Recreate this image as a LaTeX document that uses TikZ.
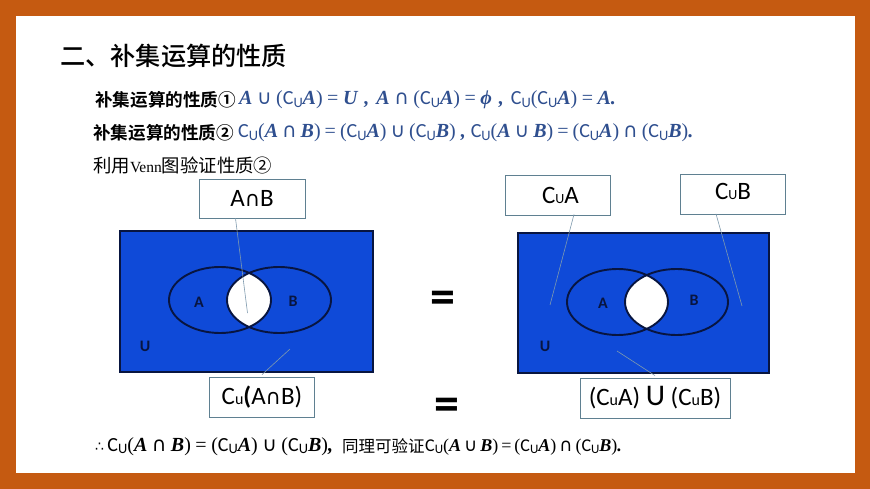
\documentclass[tikz,border=0pt]{standalone}
\usepackage{fontspec}
\setmainfont{Carlito}
\newfontfamily\cjk{Noto Sans CJK SC}
\newfontfamily\cjkm{Noto Sans CJK SC Medium}
\newfontfamily\cjkb{Noto Sans CJK SC Bold}
\newfontfamily\symf{DejaVu Sans}
\newfontfamily\mi{Liberation Serif}
\newfontfamily\calib{Carlito}
\usetikzlibrary{calc}
\definecolor{frameor}{HTML}{C55A11}
\definecolor{vennblue}{HTML}{0F4AD8}
\definecolor{navy}{HTML}{081540}
\definecolor{mathblue}{HTML}{2F4F8F}
\definecolor{boxline}{HTML}{5F8091}
\definecolor{leader}{HTML}{7F9AAE}
\newlength{\opsp}
\setlength{\opsp}{3pt}
\newcommand{\sz}[1]{\fontsize{#1}{#1}\selectfont}
\newcommand{\mv}[1]{{\mi\bfseries\itshape #1}}
\newcommand{\Cs}{{\calib C\raisebox{-0.28ex}{\scalebox{0.72}{U}}}}
\newcommand{\un}{\hspace{\opsp}{\symf ∪}\hspace{\opsp}}
\newcommand{\nt}{\hspace{\opsp}{\symf ∩}\hspace{\opsp}}
\newcommand{\lp}{{\mi(}}
\newcommand{\rp}{{\mi)}}
\newcommand{\eq}{\hspace{\opsp}{\mi=}\hspace{\opsp}}
\tikzset{
  x=1pt,y=-1pt,
  mathline/.style={inner sep=0pt,anchor=base west,text=mathblue,font=\calib\sz{20}},
  cjkline/.style={inner sep=0pt,anchor=base west,text=black},
  labelbox/.style={draw=boxline,line width=0.8pt,fill=white,inner sep=0pt,font=\calib\sz{25}},
  leaderline/.style={draw=leader,line width=0.6pt},
  vennrect/.style={draw=navy,line width=1.8pt,fill=vennblue},
  vennring/.style={draw=navy,line width=1.9pt},
  vennlabel/.style={inner sep=0pt,text=navy,font=\calib\bfseries\sz{16}},
  equalsign/.style={font=\calib\bfseries\sz{50},inner sep=0pt},
}
\begin{document}
\begin{tikzpicture}
\useasboundingbox (0,0) rectangle (870,489);
\fill[frameor] (0,0) rectangle (870,489);
\fill[white] (16,16) rectangle (855,473);

\node[cjkline,font=\cjkm\sz{25.2}] (title) at (60,66) {二、补集运算的性质};

\node[cjkline,font=\cjkb\sz{17.6}] (p1) at (95,107) {补集运算的性质①};
\node[mathline] (m1) at (239,105) {\setlength{\opsp}{4.5pt}\mv{A}\un\lp\Cs\mv{A}\rp\eq\mv{U}\hspace{7pt}\mv{,}\hspace{7pt}\mv{A}\nt\lp\Cs\mv{A}\rp\eq\mv{ϕ}\hspace{7pt}\mv{,}\hspace{7pt}\Cs\lp\Cs\mv{A}\rp\eq\mv{A.}};

\node[cjkline,font=\cjkb\sz{17.6}] (p2) at (93,140) {补集运算的性质②};
\node[mathline] (m2) at (238,138) {\setlength{\opsp}{4pt}\Cs\lp\mv{A}\nt\mv{B}\rp\eq\lp\Cs\mv{A}\rp\un\lp\Cs\mv{B}\rp\hspace{5pt}\mv{,}\hspace{5pt}\Cs\lp\mv{A}\un\mv{B}\rp\eq\lp\Cs\mv{A}\rp\nt\lp\Cs\mv{B}\rp\mv{.}};

\node[cjkline,font=\cjk\sz{18.4}] (p3) at (93,173) {利用{\mi\sz{15.5}Venn}图验证性质②};

% left Venn
\node[vennrect,minimum width=253pt,minimum height=141pt,inner sep=0pt] (urect1) at (246.5,301.5) {};
\begin{scope}
  \clip (220,300) ellipse [x radius=51,y radius=33];
  \fill[white] (279,300) ellipse [x radius=52,y radius=33];
\end{scope}
\draw[vennring] (220,300) ellipse [x radius=51,y radius=33];
\draw[vennring] (279,300) ellipse [x radius=52,y radius=33];
\node[vennlabel] (a1) at (199,302) {A};
\node[vennlabel] (b1) at (293,301) {B};
\node[vennlabel] (u1) at (145,346) {U};
\node[labelbox,minimum width=106pt,minimum height=39pt] (ab) at (252,198.5) {A{\symf\sz{21}∩}B};
\node[labelbox,minimum width=105.5pt,minimum height=40pt] (cab) at (262,397) {C{\sz{16}u}{\bfseries(}A{\symf\sz{21}∩}B)};
\coordinate (abend) at (247.5,313);
\coordinate (cabend) at (290,349);
\draw[leaderline] ([xshift=-16.5pt]ab.south) -- (abend);
\draw[leaderline] ($(cab.north)+(0,-2)$) -- (cabend);

\node[equalsign] (eq1) at (443,302) {=};
\node[equalsign] (eq2) at (447,409) {=};

% right Venn
\node[vennrect,minimum width=251pt,minimum height=140pt,inner sep=0pt] (urect2) at (643.5,303) {};
\begin{scope}
  \clip (617.5,302) ellipse [x radius=50.5,y radius=33];
  \fill[white] (676.5,302) ellipse [x radius=51.5,y radius=33];
\end{scope}
\draw[vennring] (617.5,302) ellipse [x radius=50.5,y radius=33];
\draw[vennring] (676.5,302) ellipse [x radius=51.5,y radius=33];
\node[vennlabel] (a2) at (603,303) {A};
\node[vennlabel] (b2) at (694,300) {B};
\node[vennlabel] (u2) at (545,346) {U};
\node[labelbox,minimum width=105pt,minimum height=40pt] (ca) at (557.5,195) {\hspace{6pt}C{\sz{14}U}A};
\node[labelbox,minimum width=105pt,minimum height=40pt,text depth=6pt] (cb) at (733,194.5) {C{\sz{14}U}B};
\node[labelbox,minimum width=150pt,minimum height=40pt] (cacb) at (655,398) {(C{\sz{16}u}A) {\sz{30}U} (C{\sz{16}u}B)};
\coordinate (caend) at (550,305);
\coordinate (cbend) at (742,306);
\coordinate (cacbend) at (617,351);
\draw[leaderline] ([xshift=16.5pt,yshift=1pt]ca.south) -- (caend);
\draw[leaderline] ([xshift=-17pt,yshift=1pt]cb.south) -- (cbend);
\draw[leaderline] ($(cacb.north)+(0,-2)$) -- (cacbend);

% conclusion
\node[mathline,text=black,font=\calib\sz{20}] (m3) at (95,451) {\setlength{\opsp}{4.5pt}{\symf\sz{14}∴}\,\Cs\lp\mv{A}\nt\mv{B}\rp\eq\lp\Cs\mv{A}\rp\un\lp\Cs\mv{B}\rp\mv{,}};
\node[cjkline,font=\cjk\sz{16.5}] (p4) at (342,452) {同理可验证};
\node[mathline,text=black,font=\calib\sz{18}] (m4) at (425,451) {\setlength{\opsp}{3pt}\Cs\lp\mv{A}\un\mv{B}\rp\eq\lp\Cs\mv{A}\rp\nt\lp\Cs\mv{B}\rp\mv{.}};
\end{tikzpicture}
\end{document}
